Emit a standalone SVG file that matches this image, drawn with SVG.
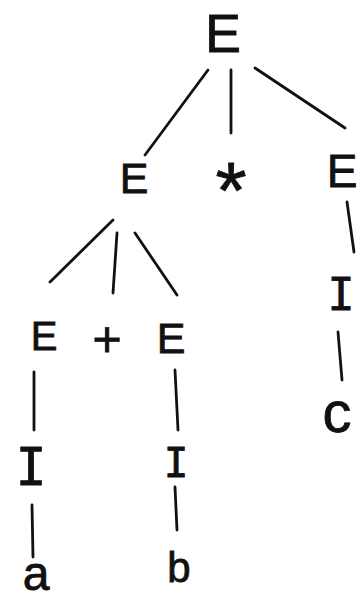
<svg xmlns="http://www.w3.org/2000/svg" width="360" height="601" viewBox="0 0 360 601">
<style>
.t{font-family:"Liberation Sans","DejaVu Sans",sans-serif;fill:#111;stroke:#111;stroke-width:0.8;text-anchor:middle}
.m{font-family:"DejaVu Sans Mono","Liberation Mono",monospace;fill:#111;stroke:#111;stroke-width:0.8;text-anchor:middle}
.e line{stroke:#111;stroke-width:2.8;stroke-linecap:round;fill:none}
</style>
<rect width="360" height="601" fill="#fff"/>
<g id="connectors" class="e">
<line x1="208" y1="70" x2="145" y2="155"/>
<line x1="231" y1="70" x2="231" y2="133"/>
<line x1="255" y1="68" x2="345" y2="128"/>
<line x1="113" y1="220" x2="50" y2="282"/>
<line x1="117" y1="233" x2="113" y2="293"/>
<line x1="135" y1="233" x2="177" y2="295"/>
<line x1="347" y1="202" x2="354" y2="252"/>
<line x1="338" y1="332" x2="342" y2="380"/>
<line x1="34" y1="372" x2="34" y2="430"/>
<line x1="32" y1="505" x2="33" y2="557"/>
<line x1="175" y1="370" x2="178" y2="430"/>
<line x1="175" y1="487" x2="177" y2="530"/>
</g>
<g id="n-root"><text class="t" x="223" y="52" font-size="54">E</text></g>
<g id="n-e1"><text class="t" x="134" y="193" font-size="43">E</text></g>
<g id="n-star"><text class="t" x="231" y="218" font-size="80">*</text></g>
<g id="n-e2"><text class="t" x="342" y="187" font-size="46">E</text></g>
<g id="n-e3"><text class="t" x="44" y="350" font-size="40">E</text></g>
<g id="n-plus"><text class="t" x="107" y="356" font-size="50">+</text></g>
<g id="n-e4"><text class="t" x="171" y="353" font-size="43">E</text></g>
<g id="n-i1"><text class="m" x="31" y="485" font-size="51">I</text></g>
<g id="n-i2"><text class="m" x="176" y="477" font-size="41">I</text></g>
<g id="n-i3"><text class="m" x="341" y="310" font-size="45">I</text></g>
<g id="n-a"><text class="t" x="36" y="590" font-size="48">a</text></g>
<g id="n-b"><text class="t" x="179" y="582" font-size="42">b</text></g>
<g id="n-c"><text class="t" x="337" y="432" font-size="58">c</text></g>
</svg>
